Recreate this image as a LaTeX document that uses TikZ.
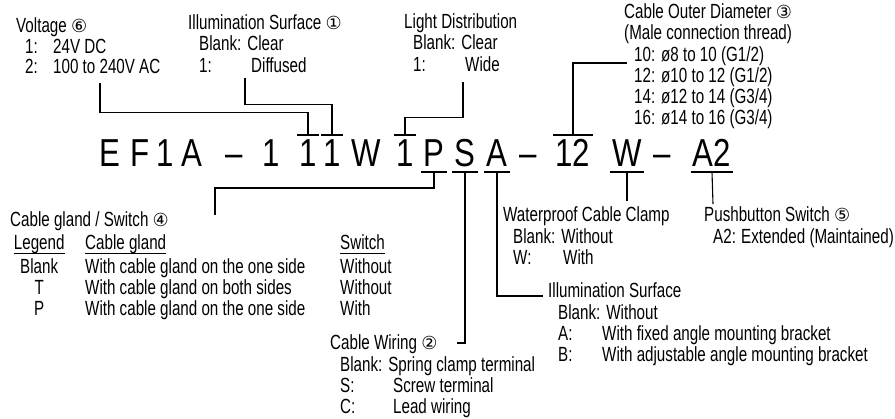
\documentclass[tikz,border=0pt]{standalone}
\usepackage{fontspec}
\usepackage{array}
\usepackage{tikz}
\setmainfont{Liberation Sans}[FakeStretch=0.74]
\newfontfamily\codefont{Liberation Sans}[FakeStretch=0.8]
\newfontfamily\encfont{DejaVu Sans}
\newcommand{\encl}[1]{{\encfont\fontsize{18}{18}\selectfont #1}}
\newcommand{\opt}[2]{\makebox[#1][l]{#2}}
\newcommand{\ulbl}[1]{\setbox0\hbox{#1}\rlap{\rule[-3.5pt]{\wd0}{0.9pt}}\box0}

\begin{document}
\begin{tikzpicture}[x=1pt, y=-1pt,
    lbl/.style={anchor=base west, inner sep=0pt, font=\fontsize{20.5}{20.5}\selectfont},
    code/.style={anchor=base, inner sep=0pt, font=\codefont\fontsize{39}{40}\selectfont, text height=27pt, text depth=0pt},
    leadline/.style={line width=1.1pt},
    keybar/.style={line width=1.6pt}]
    \useasboundingbox (0,0) rectangle (895,419);

    \node (ce) [code] at (110,167) {E};
    \node (cf) [code] at (140,167) {F};
    \node (cone) [code] at (165,167) {1};
    \node (ca) [code] at (192,167) {A};
    \node (dasha) [code] at (234,167) {–};
    \node (series) [code] at (271,167) {1};
    \node (voltkey) [code] at (308,167) {1};
    \node (surfkey) [code] at (332,167) {1};
    \node (cw) [code] at (366,167) {W};
    \node (distkey) [code] at (405,167) {1};
    \node (glandkey) [code] at (434,167) {P};
    \node (wirekey) [code] at (465,167) {S};
    \node (bracketkey) [code] at (497,167) {A};
    \node (dashb) [code] at (528,167) {–};
    \node (diamkey) [code] at (573,167) {12};
    \node (clampkey) [code] at (627,167) {W};
    \node (dashc) [code] at (662,167) {–};
    \node (pushkey) [code] at (712,167) {A2};

    \node (voltage) [lbl] at (16,33) {\begin{tabular}[t]{@{}l@{}}
        Voltage \encl{⑥}\\
        \hspace*{9pt}\opt{28pt}{1:}24V DC\\
        \hspace*{9pt}\opt{28pt}{2:}100 to 240V AC
    \end{tabular}};
    \node (surface) [lbl] at (188,30) {\begin{tabular}[t]{@{}l@{}}
        Illumination Surface \encl{①}\\
        \hspace*{11pt}Blank:\hspace{6pt}Clear\\
        \hspace*{11pt}\opt{52pt}{1:}Diffused
    \end{tabular}};
    \node (distrib) [lbl] at (404,29) {\begin{tabular}[t]{@{}l@{}}
        Light Distribution\\
        \hspace*{9pt}Blank:\hspace{6pt}Clear\\
        \hspace*{9pt}\opt{52pt}{1:}Wide
    \end{tabular}};
    \node (diameter) [lbl] at (624,19) {\begin{tabular}[t]{@{}l@{}}
        Cable Outer Diameter \encl{③}\\
        (Male connection thread)\\
        \hspace*{10pt}\opt{27pt}{10:}ø8 to 10 (G1/2)\\
        \hspace*{10pt}\opt{27pt}{12:}ø10 to 12 (G1/2)\\
        \hspace*{10pt}\opt{27pt}{14:}ø12 to 14 (G3/4)\\
        \hspace*{10pt}\opt{27pt}{16:}ø14 to 16 (G3/4)
    \end{tabular}};
    \node (gland) [lbl] at (10,227) {Cable gland / Switch \encl{④}};
    \node (legend) [lbl] at (14,250) {\begin{tabular}[t]{@{}w{c}{50pt}@{\hspace{21pt}}w{l}{255pt}@{}l@{}}
        \ulbl{Legend} & \ulbl{Cable gland} & \ulbl{Switch}\\[2pt]
        Blank & With cable gland on the one side & Without\\
        T & With cable gland on both sides & Without\\
        P & With cable gland on the one side & With
    \end{tabular}};
    \node (wiring) [lbl] at (330,350) {\begin{tabular}[t]{@{}l@{}}
        Cable Wiring \encl{②}\\
        \hspace*{10pt}Blank:\hspace{6pt}Spring clamp terminal\\
        \hspace*{10pt}\opt{53pt}{S:}Screw terminal\\
        \hspace*{10pt}\opt{53pt}{C:}Lead wiring
    \end{tabular}};
    \node (bracket) [lbl] at (548,298) {\begin{tabular}[t]{@{}l@{}}
        Illumination Surface\\
        \hspace*{10pt}Blank:\hspace{6pt}Without\\
        \hspace*{10pt}\opt{44pt}{A:}With fixed angle mounting bracket\\
        \hspace*{10pt}\opt{44pt}{B:}With adjustable angle mounting bracket
    \end{tabular}};
    \node (clamp) [lbl] at (503,222) {\begin{tabular}[t]{@{}l@{}}
        Waterproof Cable Clamp\\
        \hspace*{10pt}Blank:\hspace{6pt}Without\\
        \hspace*{10pt}\opt{50pt}{W:}With
    \end{tabular}};
    \node (push) [lbl] at (704,222) {\begin{tabular}[t]{@{}l@{}}
        Pushbutton Switch \encl{⑤}\\
        \hspace*{9pt}\opt{28pt}{A2:}Extended (Maintained)
    \end{tabular}};

    \coordinate (voltfoot) at (100,83);
    \coordinate (surffoot) at (245,78);
    \coordinate (distfoot) at (463,82);
    \coordinate (diamfoot) at (627,63);
    \coordinate (glandfoot) at (215,215);
    \coordinate (wirefoot) at (457,343);
    \coordinate (bracketfoot) at (543,296);
    \coordinate (clampfoot) at (627,201);
    \coordinate (pushfoot) at (713,204);

    \draw[keybar] ([xshift=-2pt,yshift=4.5pt]voltkey.north west) -- ([xshift=2pt,yshift=4.5pt]voltkey.north east);
    \draw[keybar] ([xshift=-2pt,yshift=4.5pt]surfkey.north west) -- ([xshift=2pt,yshift=4.5pt]surfkey.north east);
    \draw[keybar] ([xshift=-2pt,yshift=4.5pt]distkey.north west) -- ([xshift=2pt,yshift=4.5pt]distkey.north east);
    \draw[keybar] ([xshift=-2pt,yshift=4.5pt]diamkey.north west) -- ([xshift=2pt,yshift=4.5pt]diamkey.north east);
    \draw[keybar] ([xshift=-2pt,yshift=-5pt]glandkey.south west) -- ([xshift=2pt,yshift=-5pt]glandkey.south east);
    \draw[keybar] ([xshift=-2pt,yshift=-5pt]wirekey.south west) -- ([xshift=2pt,yshift=-5pt]wirekey.south east);
    \draw[keybar] ([xshift=-2pt,yshift=-5pt]bracketkey.south west) -- ([xshift=2pt,yshift=-5pt]bracketkey.south east);
    \draw[keybar] ([xshift=-2pt,yshift=-5pt]clampkey.south west) -- ([xshift=2pt,yshift=-5pt]clampkey.south east);
    \draw[keybar] ([xshift=-2pt,yshift=-5pt]pushkey.south west) -- ([xshift=2pt,yshift=-5pt]pushkey.south east);

    \draw[leadline] (voltfoot) |- ([yshift=27pt]voltkey.north) -- ([yshift=4.5pt]voltkey.north);
    \draw[leadline] (surffoot) |- ([yshift=35pt]surfkey.north) -- ([yshift=4.5pt]surfkey.north);
    \draw[leadline] (distfoot) |- ([yshift=22pt]distkey.north) -- ([yshift=4.5pt]distkey.north);
    \draw[leadline] (diamfoot) -| ([yshift=4.5pt]diamkey.north);
    \draw[leadline] ([yshift=-5pt]glandkey.south) |- (glandfoot |- 0,188) -- (glandfoot);
    \draw[leadline] ([yshift=-5pt]wirekey.south) |- (wirefoot);
    \draw[leadline] ([yshift=-5pt]bracketkey.south) |- (bracketfoot);
    \draw[leadline] ([yshift=-5pt]clampkey.south) -- (clampfoot);
    \draw[leadline] ([yshift=-5pt]pushkey.south) -- (pushfoot);
\end{tikzpicture}
\end{document}
